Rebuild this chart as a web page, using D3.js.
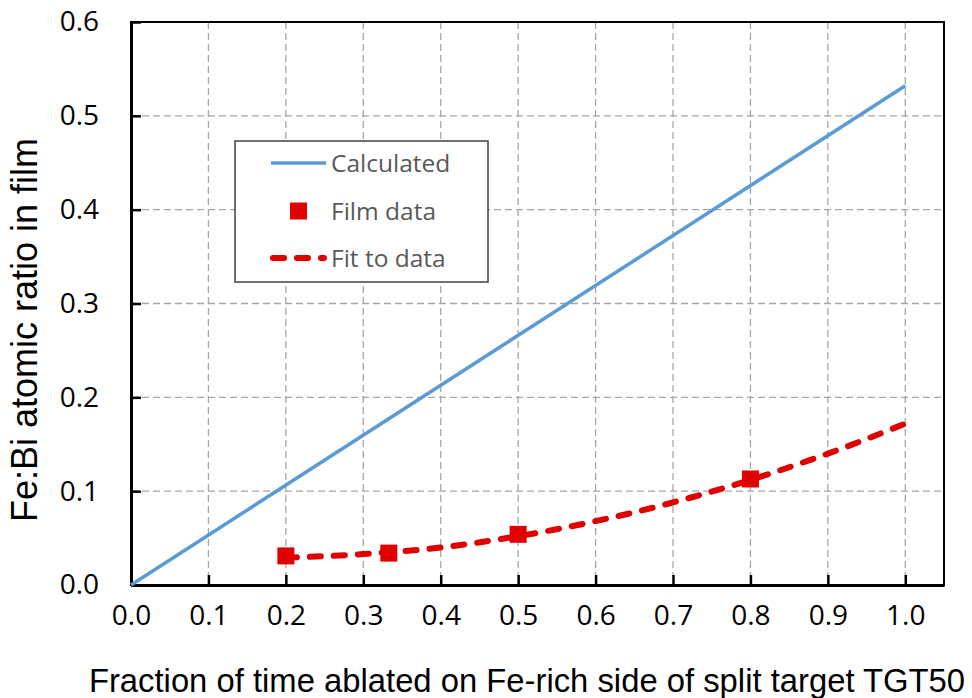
<!DOCTYPE html>
<html>
<head>
<meta charset="utf-8">
<script src="https://cdn.jsdelivr.net/npm/d3@7"></script>
<style>
  html, body { margin: 0; padding: 0; background: #fff; }
  svg { display: block; }
</style>
</head>
<body>
<svg id="chart" width="972" height="698"></svg>
<script>
// Calculated Fe:Bi ratio (straight line)
const calcX = [0.0, 1.0];
const calcY = [0.0, 0.532];

// Measured film compositions
const filmX = [0.2, 0.333, 0.5, 0.8];
const filmY = [0.031, 0.034, 0.054, 0.113];

// Fit curve through the film data
const fitX = [0.2, 0.3, 0.4, 0.5, 0.6, 0.7, 0.8, 0.9, 1.0];
const fitY = [0.029, 0.033, 0.040, 0.052, 0.068, 0.088, 0.112, 0.140, 0.172];

// Tick labels
const xTicks = [0.0, 0.1, 0.2, 0.3, 0.4, 0.5, 0.6, 0.7, 0.8, 0.9, 1.0];
const yTicks = [0.0, 0.1, 0.2, 0.3, 0.4, 0.5, 0.6];

const legendItems = ["Calculated", "Film data", "Fit to data"];

const svg = d3.select("#chart");
const margin = { left: 131, top: 22, right: 28, bottom: 113 };
const W = 972, H = 698;
const x = d3.scaleLinear().domain([0, 1.05]).range([margin.left, W - margin.right]);
const y = d3.scaleLinear().domain([0, 0.6]).range([H - margin.bottom, margin.top]);

const x0 = x.range()[0], x1 = x.range()[1];
const y0 = y.range()[0], y1 = y.range()[1];

const blue = "#5b9bd5";
const red = "#e00000";
const tickFont = "'Open Sans', sans-serif";
const titleFont = "'Liberation Sans', Arial, sans-serif";

// Grid lines
const grid = svg.append("g").attr("stroke", "#a6a6a6").attr("stroke-width", 1.3)
  .attr("stroke-dasharray", "7,4");
grid.selectAll(".gx").data(xTicks.filter(d => d > 0)).enter().append("line")
  .attr("x1", d => x(d)).attr("x2", d => x(d)).attr("y1", y1).attr("y2", y0);
grid.selectAll(".gy").data(yTicks.filter(d => d > 0 && d < 0.6)).enter().append("line")
  .attr("y1", d => y(d)).attr("y2", d => y(d)).attr("x1", x0).attr("x2", x1);

// Plot frame
svg.append("rect").attr("x", x0).attr("y", y1).attr("width", x1 - x0).attr("height", y0 - y1)
  .attr("fill", "none").attr("stroke", "#000").attr("stroke-width", 2);

// Axes with inward ticks
const xAxis = d3.axisBottom(x).tickValues(xTicks).tickSizeInner(-10).tickSizeOuter(0)
  .tickPadding(20).tickFormat(d3.format(".1f"));
const gx = svg.append("g").attr("transform", `translate(0,${y0})`).call(xAxis);
gx.select(".domain").attr("stroke", "#000").attr("stroke-width", 3);
gx.selectAll(".tick line").attr("stroke", "#000").attr("stroke-width", 2.5);
gx.selectAll(".tick text").attr("font-family", tickFont).attr("font-size", 28).attr("fill", "#000")
  .attr("dy", "0.71em");

const yAxis = d3.axisLeft(y).tickValues(yTicks).tickSizeInner(-10).tickSizeOuter(0)
  .tickPadding(32).tickFormat(d3.format(".1f"));
const gy = svg.append("g").attr("transform", `translate(${x0},0)`).call(yAxis);
gy.select(".domain").attr("stroke", "#000").attr("stroke-width", 3);
gy.selectAll(".tick line").attr("stroke", "#000").attr("stroke-width", 2.5);
gy.selectAll(".tick text").attr("font-family", tickFont).attr("font-size", 28).attr("fill", "#000");

// Axis titles
svg.append("text").attr("x", 527).attr("y", 692).attr("text-anchor", "middle")
  .attr("font-family", titleFont).attr("font-size", 32.8).attr("fill", "#000")
  .text("Fraction of time ablated on Fe-rich side of split target TGT50");
svg.append("text").attr("transform", "translate(37,330) rotate(-90)").attr("text-anchor", "middle")
  .attr("font-family", titleFont).attr("font-size", 36).attr("fill", "#000")
  .text("Fe:Bi atomic ratio in film");

// Calculated line
const line = d3.line().x(d => x(d[0])).y(d => y(d[1]));
svg.append("path").datum(d3.zip(calcX, calcY)).attr("d", line)
  .attr("fill", "none").attr("stroke", blue).attr("stroke-width", 3.5);

// Fit curve
const curve = d3.line().x(d => x(d[0])).y(d => y(d[1])).curve(d3.curveMonotoneX);
svg.append("path").datum(d3.zip(fitX, fitY)).attr("d", curve)
  .attr("fill", "none").attr("stroke", red).attr("stroke-width", 6)
  .attr("stroke-linecap", "round").attr("stroke-dasharray", "11,13");

// Film data markers
const ms = 17;
svg.selectAll(".film").data(d3.zip(filmX, filmY)).enter().append("rect")
  .attr("x", d => x(d[0]) - ms / 2).attr("y", d => y(d[1]) - ms / 2)
  .attr("width", ms).attr("height", ms).attr("fill", red);

// Legend
const lg = svg.append("g");
lg.append("rect").attr("x", 235).attr("y", 141).attr("width", 253).attr("height", 141)
  .attr("fill", "#fff").attr("stroke", "#404040").attr("stroke-width", 1.5);
const rowY = [163, 211, 258];
lg.append("line").attr("x1", 271).attr("x2", 326).attr("y1", rowY[0]).attr("y2", rowY[0])
  .attr("stroke", blue).attr("stroke-width", 3.5);
lg.append("rect").attr("x", 290).attr("y", rowY[1] - 8.5).attr("width", ms).attr("height", ms)
  .attr("fill", red);
lg.append("line").attr("x1", 273).attr("x2", 324).attr("y1", rowY[2]).attr("y2", rowY[2])
  .attr("stroke", red).attr("stroke-width", 6).attr("stroke-linecap", "round")
  .attr("stroke-dasharray", "11,13");
lg.selectAll(".lt").data(legendItems).enter().append("text")
  .attr("x", 331).attr("y", (d, i) => rowY[i]).attr("dy", "0.36em")
  .attr("font-family", tickFont).attr("font-size", 24.5).attr("fill", "#595959")
  .text(d => d);
</script>
</body>
</html>
